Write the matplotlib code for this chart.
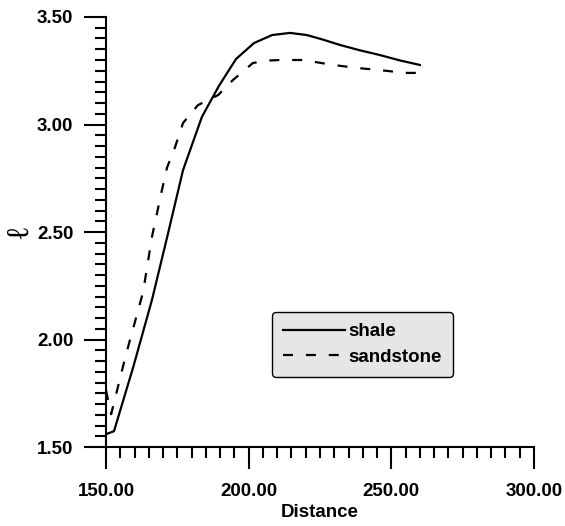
import matplotlib
matplotlib.use("Agg")
import matplotlib.pyplot as plt
from matplotlib.ticker import MultipleLocator, FormatStrFormatter

plt.rcParams['font.family'] = ['Liberation Sans', 'DejaVu Sans']

# shale (solid line)
shale_x = [150.0, 152.8, 159.5, 166.1, 171.5, 177.0, 183.6, 189.6, 195.6, 201.9,
           208.2, 214.5, 220.4, 226.0, 232.0, 239.0, 246.0, 253.0, 260.0]
shale_y = [1.56, 1.574, 1.87, 2.184, 2.48, 2.788, 3.035, 3.18, 3.305, 3.379,
           3.416, 3.426, 3.416, 3.395, 3.37, 3.345, 3.323, 3.298, 3.277]

# sandstone (dashed line)
sand_x = [150.0, 151.8, 157.0, 163.0, 166.1, 169.6, 171.4, 174.2, 177.0, 182.2,
          189.3, 194.5, 201.5, 206.0, 211.0, 219.0, 229.6, 238.0, 246.0, 254.8, 259.4]
sand_y = [1.765, 1.653, 1.93, 2.221, 2.477, 2.695, 2.80, 2.895, 3.007, 3.09,
          3.137, 3.207, 3.286, 3.297, 3.30, 3.30, 3.277, 3.263, 3.253, 3.24, 3.24]

fig = plt.figure(figsize=(5.65, 5.26), dpi=100)
ax = fig.add_axes([0.1876, 0.150, 0.7575, 0.8177])

ax.plot(shale_x, shale_y, color='black', linewidth=1.6, label='shale')
ax.plot(sand_x, sand_y, color='black', linewidth=1.6, dashes=(4.5, 5.8), label='sandstone')

ax.set_xlim(150, 300)
ax.set_ylim(1.5, 3.5)
ax.xaxis.set_major_locator(MultipleLocator(50))
ax.xaxis.set_minor_locator(MultipleLocator(5))
ax.yaxis.set_major_locator(MultipleLocator(0.5))
ax.yaxis.set_minor_locator(MultipleLocator(0.05))
ax.xaxis.set_major_formatter(FormatStrFormatter('%.2f'))
ax.yaxis.set_major_formatter(FormatStrFormatter('%.2f'))

for s in ['top', 'right']:
    ax.spines[s].set_visible(False)
for s in ['left', 'bottom']:
    ax.spines[s].set_linewidth(1.5)

ax.tick_params(which='major', length=16, width=1.5, direction='out', labelsize=13.5)
ax.tick_params(which='minor', length=8, width=1.5, direction='out')
ax.tick_params(axis='x', which='major', pad=10)
ax.tick_params(axis='y', which='major', pad=7.5)
for lab in ax.get_xticklabels() + ax.get_yticklabels():
    lab.set_fontweight('bold')

ax.set_xlabel('Distance', fontsize=13.5, fontweight='bold', labelpad=2.5)
ax.set_ylabel('\u2113', fontsize=22, family=['Liberation Serif', 'DejaVu Sans'],
              rotation=90, labelpad=2)

leg = ax.legend(loc='lower left', bbox_to_anchor=(0.388, 0.163), borderaxespad=0,
                fancybox=True, facecolor='#e6e6e6', edgecolor='black', framealpha=1,
                handlelength=3.3, handletextpad=0.15, borderpad=0.6,
                labelspacing=0.45, prop={'weight': 'bold', 'size': 13.5})
leg.get_frame().set_linewidth(1.0)

fig.savefig('out.png', dpi=100)
